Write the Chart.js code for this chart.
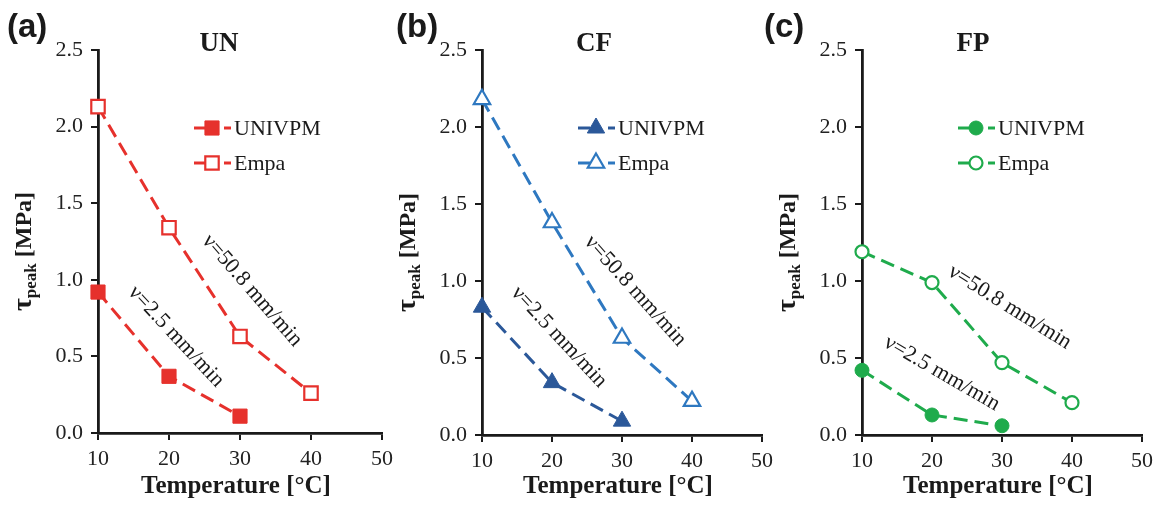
<!DOCTYPE html>
<html><head><meta charset="utf-8">
<script src="https://cdn.jsdelivr.net/npm/chart.js@4.4.0/dist/chart.umd.min.js"></script>
<style>
html,body{margin:0;padding:0;background:#fff;}
#wrap{position:relative;width:1159px;height:510px;overflow:hidden;background:#fff;}
.pane{position:absolute;top:0;height:510px;}
</style></head><body>
<div id="wrap">
<div class="pane" style="left:0;width:402px"><canvas id="ca"></canvas></div>
<div class="pane" style="left:384px;width:398px"><canvas id="cb"></canvas></div>
<div class="pane" style="left:764px;width:398px"><canvas id="cc"></canvas></div>
</div>
<script>
// ---- data ----
const temperatures = [10, 20, 30, 40];
const xTicks = [10, 20, 30, 40, 50];
const yTicks = [0, 0.5, 1.0, 1.5, 2.0, 2.5];
const panelLabels = ['(a)', '(b)', '(c)'];
const panelTitles = ['UN', 'CF', 'FP'];
const seriesNames = ['UNIVPM', 'Empa'];
const unUnivpm = [0.92, 0.37, 0.11];
const unEmpa   = [2.13, 1.34, 0.63, 0.26];
const cfUnivpm = [0.83, 0.34, 0.09];
const cfEmpa   = [2.18, 1.38, 0.63, 0.22];
const fpUnivpm = [0.42, 0.13, 0.06];
const fpEmpa   = [1.19, 0.99, 0.47, 0.21];
const speedLabels = ['\u03BD=2.5 mm/min', '\u03BD=50.8 mm/min'];
const xTitle = 'Temperature [\u00B0C]';

// ---- styles / layout ----
const AXIS = '#1a1a1a';
const SERIF = '"Liberation Serif", "Times New Roman", serif';
const SANS = '"Liberation Sans", Arial, sans-serif';

const panels = [
  { canvas: 'ca', label: panelLabels[0], title: panelTitles[0], uni: unUnivpm, emp: unEmpa,
    colUni: '#e6312c', colEmp: '#e6312c', style: 'rect', rUni: 10, rEmp: 9.5,
    xAxisH: 77, labelX: 7, titleX: 121,
    notes: [ {t: speedLabels[1], x: 31.7, y: 0.93, a: 49}, {t: speedLabels[0], x: 21.0, y: 0.63, a: 47} ] },
  { canvas: 'cb', label: panelLabels[1], title: panelTitles[1], uni: cfUnivpm, emp: cfEmpa,
    colUni: '#2b5899', colEmp: '#2e78c0', style: 'triangle', rUni: 10, rEmp: 9.5,
    xAxisH: 75, labelX: 12, titleX: 112,
    notes: [ {t: speedLabels[1], x: 31.9, y: 0.935, a: 48}, {t: speedLabels[0], x: 21.0, y: 0.636, a: 47} ] },
  { canvas: 'cc', label: panelLabels[2], title: panelTitles[2], uni: fpUnivpm, emp: fpEmpa,
    colUni: '#1fab4c', colEmp: '#1fab4c', style: 'circle', rUni: 7, rEmp: 6.5,
    xAxisH: 75, labelX: 0, titleX: 111,
    notes: [ {t: speedLabels[1], x: 31.1, y: 0.83, a: 32}, {t: speedLabels[0], x: 21.4, y: 0.40, a: 30} ] }
];

const decor = {
  id: 'decor',
  afterDraw(chart, args, o) {
    const { ctx, chartArea: a, scales: { x, y } } = chart;
    ctx.save();
    ctx.fillStyle = AXIS;
    // panel label
    ctx.font = 'bold 33px ' + SANS;
    ctx.textAlign = 'left'; ctx.textBaseline = 'middle';
    ctx.fillText(o.label, o.labelX, 28);
    // title
    ctx.font = 'bold 27px ' + SERIF;
    ctx.textAlign = 'center';
    ctx.fillText(o.title, a.left + o.titleX, 44);
    // x title
    ctx.font = 'bold 25px ' + SERIF;
    ctx.fillText(xTitle, (a.left + a.right) / 2 - 4, 487);
    // y title (rotated, with subscript)
    ctx.save();
    ctx.translate(a.left - 67, (a.top + a.bottom) / 2 + 10);
    ctx.rotate(-Math.PI / 2);
    ctx.textAlign = 'left'; ctx.textBaseline = 'alphabetic';
    const fMain = 'bold 24px ' + SERIF, fSub = 'bold 17px ' + SERIF, fTau = 'bold 28px ' + SERIF;
    ctx.font = fTau; const w1 = ctx.measureText('\u03C4').width;
    ctx.font = fMain; const w3 = ctx.measureText(' [MPa]').width;
    ctx.font = fSub; const w2 = ctx.measureText('peak').width;
    let sx = -(w1 + w2 + w3) / 2;
    ctx.font = fTau; ctx.fillText('\u03C4', sx, 0); sx += w1;
    ctx.font = fSub; ctx.fillText('peak', sx, 5); sx += w2;
    ctx.font = fMain; ctx.fillText(' [MPa]', sx, 0);
    ctx.restore();
    // legend
    chart.data.datasets.forEach((ds, i) => {
      const ly = a.top + 78 + i * 35;
      const x0 = a.left + 96;
      ctx.strokeStyle = ds.borderColor; ctx.lineWidth = 3; ctx.setLineDash([]);
      ctx.beginPath(); ctx.moveTo(x0, ly); ctx.lineTo(x0 + 12, ly); ctx.stroke();
      ctx.beginPath(); ctx.moveTo(x0 + 30, ly); ctx.lineTo(x0 + 37, ly); ctx.stroke();
      ctx.fillStyle = ds.pointBackgroundColor; ctx.strokeStyle = ds.pointBorderColor;
      ctx.lineWidth = ds.pointBorderWidth;
      Chart.helpers.drawPoint(ctx, { pointStyle: ds.pointStyle, rotation: 0, radius: ds.pointRadius, borderWidth: ds.pointBorderWidth }, x0 + 18, ly);
      ctx.fillStyle = AXIS;
      ctx.font = '22px ' + SERIF; ctx.textAlign = 'left'; ctx.textBaseline = 'middle';
      ctx.fillText(ds.label, x0 + 40, ly + 1);
    });
    // speed annotations
    ctx.font = '22px ' + SERIF; ctx.fillStyle = AXIS;
    ctx.textAlign = 'center'; ctx.textBaseline = 'middle';
    o.notes.forEach(n => {
      ctx.save();
      ctx.translate(x.getPixelForValue(n.x), y.getPixelForValue(n.y));
      ctx.rotate(n.a * Math.PI / 180);
      ctx.fillText(n.t, 0, 0);
      ctx.restore();
    });
    ctx.restore();
  }
};

function ds(label, values, color, style, r, filled) {
  return {
    label: label,
    data: values.map((v, i) => ({ x: temperatures[i], y: v })),
    borderColor: color, borderWidth: 3, borderDash: [14, 7],
    pointStyle: style, pointRadius: r, pointHoverRadius: r,
    pointBackgroundColor: filled ? color : '#ffffff',
    pointBorderColor: color, pointBorderWidth: filled ? 1 : 2.2,
    tension: 0, clip: false, fill: false
  };
}

panels.forEach(p => {
  new Chart(document.getElementById(p.canvas), {
    type: 'line',
    data: { datasets: [
      ds(seriesNames[0], p.uni, p.colUni, p.style, p.rUni, true),
      ds(seriesNames[1], p.emp, p.colEmp, p.style, p.rEmp, false)
    ] },
    options: {
      responsive: true, maintainAspectRatio: false, animation: false,
      events: [],
      layout: { padding: { left: 0, top: 50, right: 20, bottom: 0 } },
      plugins: { legend: { display: false }, tooltip: { enabled: false }, decor: p },
      scales: {
        x: {
          type: 'linear', min: 10, max: 50,
          afterBuildTicks: s => { s.ticks = xTicks.map(v => ({ value: v })); },
          afterFit: s => { s.height = p.xAxisH; },
          grid: { drawOnChartArea: false, drawTicks: true, tickLength: 7, color: AXIS, lineWidth: 2 },
          border: { color: AXIS, width: 2.8 },
          ticks: { color: '#222', padding: 6, font: { family: SERIF, size: 22 }, maxRotation: 0 }
        },
        y: {
          type: 'linear', min: 0, max: 2.5,
          afterBuildTicks: s => { s.ticks = yTicks.map(v => ({ value: v })); },
          afterFit: s => { s.width = 98; },
          grid: { drawOnChartArea: false, drawTicks: true, tickLength: 7, color: AXIS, lineWidth: 2 },
          border: { color: AXIS, width: 2.8 },
          ticks: { color: '#222', padding: 8, font: { family: SERIF, size: 22 }, callback: v => Number(v).toFixed(1) }
        }
      }
    },
    plugins: [decor]
  });
});
</script>
</body></html>
